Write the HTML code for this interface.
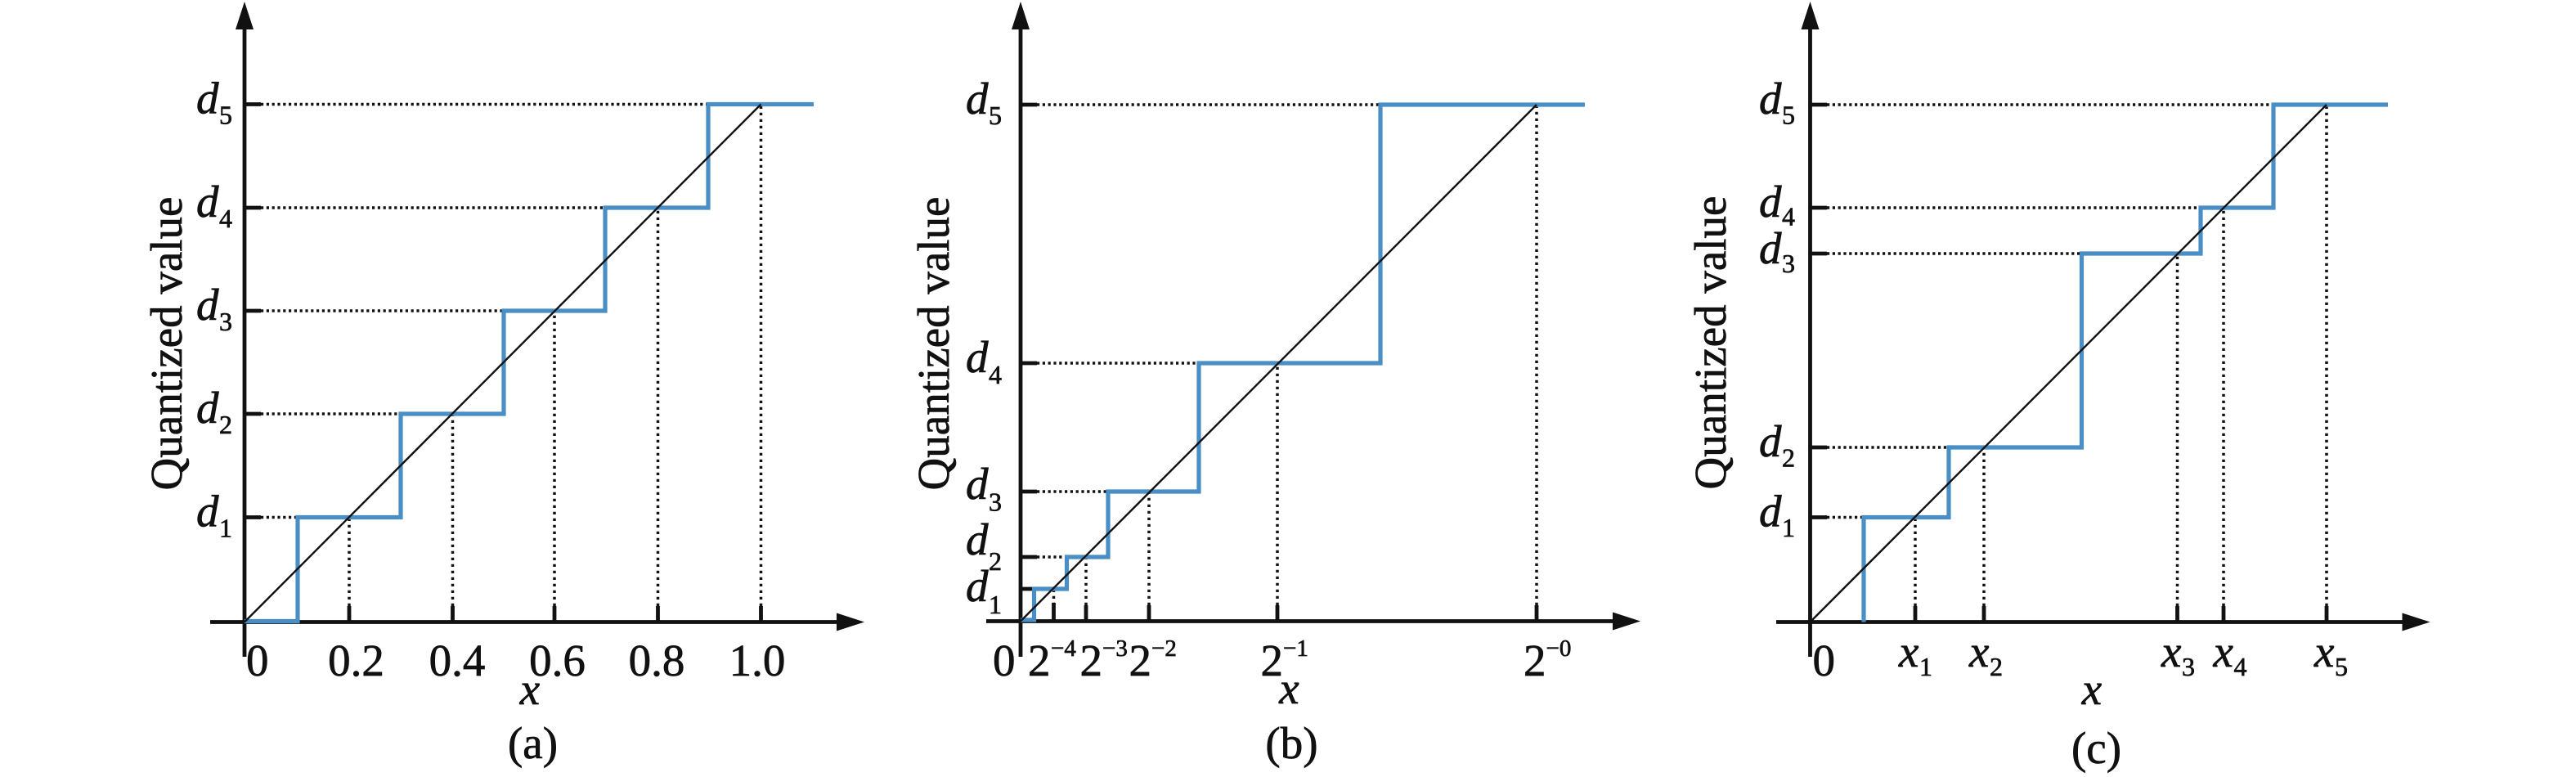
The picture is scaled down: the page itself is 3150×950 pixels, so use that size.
<!DOCTYPE html>
<html>
<head>
<meta charset="utf-8">
<style>
html,body{margin:0;padding:0;background:#fff;}
svg{display:block;}
svg text{font-family:"Liberation Serif","Times New Roman","DejaVu Serif",serif !important;fill:#111;stroke:#111;stroke-width:0.7px;}
</style>
</head>
<body>
<svg width="3150" height="950" viewBox="0 0 3150 950" xmlns="http://www.w3.org/2000/svg" font-family="Liberation Serif, Times New Roman, serif">
<g stroke="#111" fill="none">
  <!-- ===== Panel (a) dotted ===== -->
  <g stroke-width="3.5" stroke-dasharray="3.2 3.6">
    <line x1="319" y1="632.5" x2="364" y2="632.5"/>
    <line x1="319" y1="506" x2="490" y2="506"/>
    <line x1="319" y1="380" x2="616" y2="380"/>
    <line x1="319" y1="254" x2="740" y2="254"/>
    <line x1="319" y1="127.5" x2="866" y2="127.5"/>
  </g>
  <g stroke-width="3.5" stroke-dasharray="3.2 4.8">
    <line x1="427" y1="741" x2="427" y2="632.5"/>
    <line x1="553.5" y1="741" x2="553.5" y2="506"/>
    <line x1="678" y1="741" x2="678" y2="380"/>
    <line x1="804.5" y1="741" x2="804.5" y2="254"/>
    <line x1="930.5" y1="741" x2="930.5" y2="127.5"/>
  </g>
  <g stroke-width="4.8">
    <line x1="299" y1="632.5" x2="319" y2="632.5"/>
    <line x1="299" y1="506" x2="319" y2="506"/>
    <line x1="299" y1="380" x2="319" y2="380"/>
    <line x1="299" y1="254" x2="319" y2="254"/>
    <line x1="299" y1="127.5" x2="319" y2="127.5"/>
    <line x1="427" y1="760" x2="427" y2="741"/>
    <line x1="553.5" y1="760" x2="553.5" y2="741"/>
    <line x1="678" y1="760" x2="678" y2="741"/>
    <line x1="804.5" y1="760" x2="804.5" y2="741"/>
    <line x1="930.5" y1="760" x2="930.5" y2="741"/>
    <!-- axes -->
    <line x1="299" y1="30" x2="299" y2="803"/>
    <line x1="257" y1="760.5" x2="1028" y2="760.5"/>
  </g>

  <!-- ===== Panel (b) dotted ===== -->
  <g stroke-width="3.5" stroke-dasharray="3.2 3.6">
    <line x1="1268" y1="681" x2="1304.5" y2="681"/>
    <line x1="1268" y1="601" x2="1355" y2="601"/>
    <line x1="1268" y1="444" x2="1466" y2="444"/>
    <line x1="1268" y1="128" x2="1688" y2="128"/>
  </g>
  <g stroke-width="3.5" stroke-dasharray="3.2 4.8">
    <line x1="1288.5" y1="740" x2="1288.5" y2="720"/>
    <line x1="1328" y1="740" x2="1328" y2="681"/>
    <line x1="1405" y1="740" x2="1405" y2="601"/>
    <line x1="1562" y1="740" x2="1562" y2="444"/>
    <line x1="1879" y1="740" x2="1879" y2="128"/>
  </g>
  <g stroke-width="4.8">
    <line x1="1248" y1="720" x2="1265" y2="720"/>
    <line x1="1248" y1="681" x2="1268" y2="681"/>
    <line x1="1248" y1="601" x2="1268" y2="601"/>
    <line x1="1248" y1="444" x2="1268" y2="444"/>
    <line x1="1248" y1="128" x2="1268" y2="128"/>
    <line x1="1288.5" y1="759" x2="1288.5" y2="737"/>
    <line x1="1328" y1="759" x2="1328" y2="740"/>
    <line x1="1405" y1="759" x2="1405" y2="740"/>
    <line x1="1562" y1="759" x2="1562" y2="740"/>
    <line x1="1879" y1="759" x2="1879" y2="740"/>
    <line x1="1248" y1="30" x2="1248" y2="803"/>
    <line x1="1206" y1="759.5" x2="1977" y2="759.5"/>
  </g>

  <!-- ===== Panel (c) dotted ===== -->
  <g stroke-width="3.5" stroke-dasharray="3.2 3.6">
    <line x1="2234" y1="632.5" x2="2279" y2="632.5"/>
    <line x1="2234" y1="547" x2="2383" y2="547"/>
    <line x1="2234" y1="310" x2="2545.5" y2="310"/>
    <line x1="2234" y1="254" x2="2691" y2="254"/>
    <line x1="2234" y1="128" x2="2780" y2="128"/>
  </g>
  <g stroke-width="3.5" stroke-dasharray="3.2 4.8">
    <line x1="2342" y1="741" x2="2342" y2="632.5"/>
    <line x1="2426" y1="741" x2="2426" y2="547"/>
    <line x1="2662.5" y1="741" x2="2662.5" y2="310"/>
    <line x1="2719" y1="741" x2="2719" y2="254"/>
    <line x1="2845" y1="741" x2="2845" y2="128"/>
  </g>
  <g stroke-width="4.8">
    <line x1="2213.5" y1="632.5" x2="2234" y2="632.5"/>
    <line x1="2213.5" y1="547" x2="2234" y2="547"/>
    <line x1="2213.5" y1="310" x2="2234" y2="310"/>
    <line x1="2213.5" y1="254" x2="2234" y2="254"/>
    <line x1="2213.5" y1="128" x2="2234" y2="128"/>
    <line x1="2342" y1="760" x2="2342" y2="741"/>
    <line x1="2426" y1="760" x2="2426" y2="741"/>
    <line x1="2662.5" y1="760" x2="2662.5" y2="741"/>
    <line x1="2719" y1="760" x2="2719" y2="741"/>
    <line x1="2845" y1="760" x2="2845" y2="741"/>
    <line x1="2213.5" y1="30" x2="2213.5" y2="803"/>
    <line x1="2172" y1="760.5" x2="2943" y2="760.5"/>
  </g>
</g>

<!-- arrows -->
<g fill="#111">
  <polygon points="299,2 288,36 310,36"/>
  <polygon points="1057,760.5 1023,749.5 1023,771.5"/>
  <polygon points="1248,2 1237,36 1259,36"/>
  <polygon points="2006,759.5 1972,748.5 1972,770.5"/>
  <polygon points="2213.5,2 2202.5,36 2224.5,36"/>
  <polygon points="2971.5,760.5 2937.5,749.5 2937.5,771.5"/>
</g>

<!-- blue step functions -->
<g stroke="#4a8ec6" stroke-width="5.2" fill="none" stroke-linejoin="miter" stroke-linecap="butt">
  <path d="M299,759.5 H364 V632.5 H490 V506 H616 V380 H740 V254 H866 V127.5 H995"/>
  <path d="M1248,758 H1264.5 V720 H1304.5 V681 H1355 V601 H1466 V444 H1688 V128 H1938"/>
  <path d="M2279,760.5 V632.5 H2383 V547 H2545.5 V310 H2691 V254 H2780 V128 H2920"/>
</g>

<!-- diagonals -->
<g stroke="#111" stroke-width="2.4">
  <line x1="299" y1="760.5" x2="930.5" y2="127.5"/>
  <line x1="1248" y1="759.5" x2="1879" y2="128"/>
  <line x1="2213.5" y1="760.5" x2="2845" y2="128"/>
</g>

<!-- ===== Text (a) ===== -->
<g font-size="55" font-family="Liberation Serif, Times New Roman, serif">
  <text transform="translate(222,420) rotate(-90)" text-anchor="middle">Quantized value</text>
  <text x="301" y="826">0</text>
  <text x="435.5" y="826" text-anchor="middle">0.2</text>
  <text x="559" y="826" text-anchor="middle">0.4</text>
  <text x="681.5" y="826" text-anchor="middle">0.6</text>
  <text x="803" y="826" text-anchor="middle">0.8</text>
  <text x="926" y="826" text-anchor="middle">1.0</text>
  <text x="648" y="861" text-anchor="middle" font-style="italic">x</text>
  <text x="651.5" y="927" text-anchor="middle">(a)</text>
  <text x="240" y="643.5" font-style="italic">d</text><text x="268" y="656.5" font-size="32">1</text>
  <text x="240" y="517" font-style="italic">d</text><text x="268" y="530" font-size="32">2</text>
  <text x="240" y="391" font-style="italic">d</text><text x="268" y="404" font-size="32">3</text>
  <text x="240" y="265" font-style="italic">d</text><text x="268" y="278" font-size="32">4</text>
  <text x="240" y="138.5" font-style="italic">d</text><text x="268" y="151.5" font-size="32">5</text>
</g>

<!-- ===== Text (b) ===== -->
<g font-size="55" font-family="Liberation Serif, Times New Roman, serif">
  <text transform="translate(1160,420) rotate(-90)" text-anchor="middle">Quantized value</text>
  <text x="1214" y="826">0</text>
  <text x="1257" y="826">2</text><text x="1285" y="802" font-size="29">−4</text>
  <text x="1320.5" y="826">2</text><text x="1348" y="802" font-size="29">−3</text>
  <text x="1380.5" y="826">2</text><text x="1408" y="802" font-size="29">−2</text>
  <text x="1541.5" y="826">2</text><text x="1569" y="802" font-size="29">−1</text>
  <text x="1863" y="826">2</text><text x="1890.5" y="802" font-size="29">−0</text>
  <text x="1576.5" y="860" text-anchor="middle" font-style="italic">x</text>
  <text x="1579.5" y="927" text-anchor="middle">(b)</text>
  <text x="1181" y="735" font-style="italic">d</text><text x="1209" y="750" font-size="32">1</text>
  <text x="1181" y="678" font-style="italic">d</text><text x="1209" y="697" font-size="32">2</text>
  <text x="1181" y="610" font-style="italic">d</text><text x="1209" y="624.5" font-size="32">3</text>
  <text x="1181" y="455" font-style="italic">d</text><text x="1209" y="469" font-size="32">4</text>
  <text x="1181" y="139" font-style="italic">d</text><text x="1209" y="152" font-size="32">5</text>
</g>

<!-- ===== Text (c) ===== -->
<g font-size="55" font-family="Liberation Serif, Times New Roman, serif">
  <text transform="translate(2110,419) rotate(-90)" text-anchor="middle">Quantized value</text>
  <text x="2216.5" y="826">0</text>
  <text x="2322" y="815" font-style="italic">x</text><text x="2347" y="826" font-size="32">1</text>
  <text x="2408" y="815" font-style="italic">x</text><text x="2433" y="826" font-size="32">2</text>
  <text x="2643" y="815" font-style="italic">x</text><text x="2668" y="826" font-size="32">3</text>
  <text x="2706.5" y="815" font-style="italic">x</text><text x="2731.5" y="826" font-size="32">4</text>
  <text x="2830" y="815" font-style="italic">x</text><text x="2855" y="826" font-size="32">5</text>
  <text x="2558" y="861" text-anchor="middle" font-style="italic">x</text>
  <text x="2563.5" y="933" text-anchor="middle">(c)</text>
  <text x="2151" y="643.5" font-style="italic">d</text><text x="2179" y="656" font-size="32">1</text>
  <text x="2151" y="558" font-style="italic">d</text><text x="2179" y="570.5" font-size="32">2</text>
  <text x="2151" y="322" font-style="italic">d</text><text x="2179" y="333" font-size="32">3</text>
  <text x="2151" y="265" font-style="italic">d</text><text x="2179" y="275.5" font-size="32">4</text>
  <text x="2151" y="139" font-style="italic">d</text><text x="2179" y="151.5" font-size="32">5</text>
</g>
</svg>
</body>
</html>
